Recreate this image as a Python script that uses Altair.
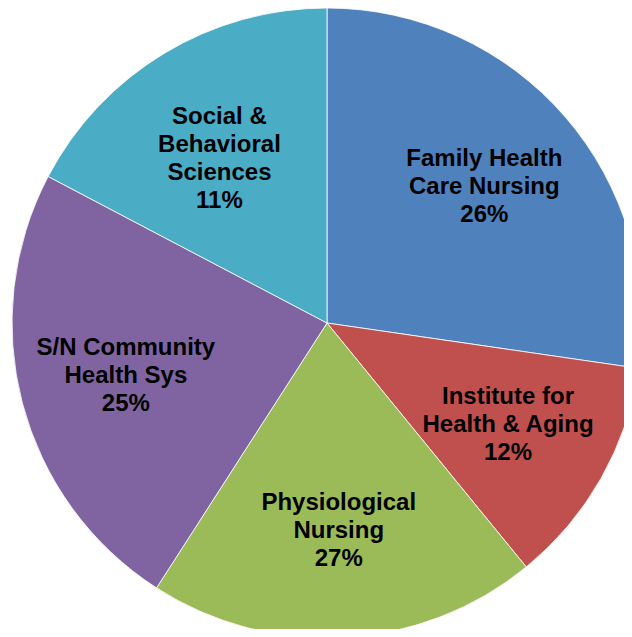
import altair as alt
import pandas as pd

categories = [
    "Family Health\nCare Nursing",
    "Institute for\nHealth & Aging",
    "Physiological\nNursing",
    "S/N Community\nHealth Sys",
    "Social &\nBehavioral\nSciences",
]
shares = [27.3, 11.8, 20.0, 23.6, 17.3]
labels = ["26%", "12%", "27%", "25%", "11%"]
colors = ["#4F81BD", "#C0504D", "#9BBB59", "#8064A2", "#4BACC6"]

df = pd.DataFrame({
    "cat": categories,
    "share": shares,
    "label": [c + "\n" + p for c, p in zip(categories, labels)],
    "idx": list(range(len(categories))),
})

cx, cy = 319, 315

base = alt.Chart(df).encode(
    theta=alt.Theta("share:Q", stack=True),
    order=alt.Order("idx:Q"),
)

arcs = base.mark_arc(radius=315, stroke="#ffffff", strokeWidth=0.8).encode(
    x=alt.value(cx),
    y=alt.value(cy),
    color=alt.Color("cat:N", scale=alt.Scale(domain=categories, range=colors), legend=None),
)

text = base.mark_text(
    radius=208,
    dy=-28,
    font="Liberation Sans",
    fontWeight="bold",
    fontSize=24,
    lineHeight=28,
    lineBreak="\n",
    align="center",
    baseline="middle",
    color="#000000",
).encode(
    x=alt.value(cx),
    y=alt.value(cy),
    text="label:N",
)

chart = alt.layer(arcs, text).properties(
    width=616,
    height=621,
    padding=0,
    autosize=alt.AutoSizeParams(type="none"),
).configure_view(stroke=None)

chart.save("out.html", embed_options={"renderer": "svg", "actions": False})
